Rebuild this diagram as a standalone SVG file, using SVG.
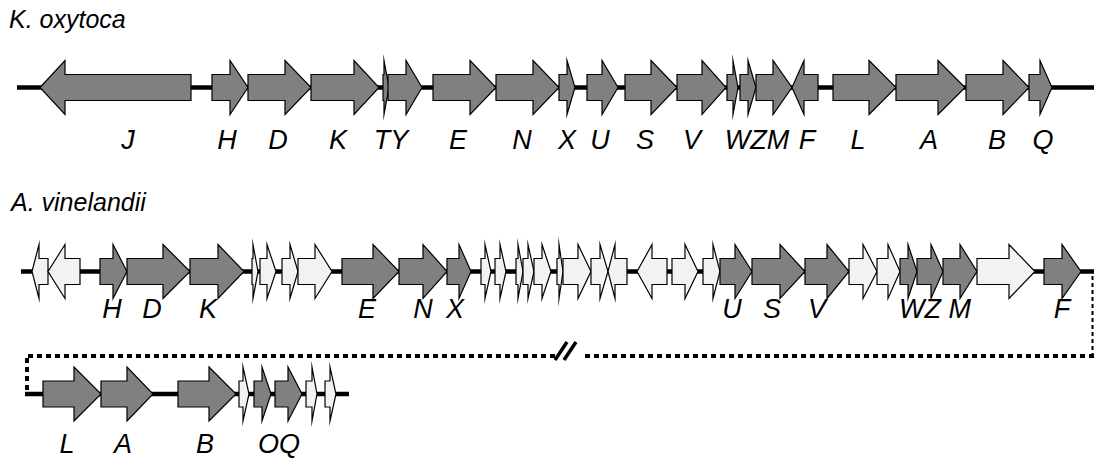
<svg xmlns="http://www.w3.org/2000/svg" width="1094" height="459" viewBox="0 0 1094 459">
  <style>
    .d { fill: #808080; stroke: #000; stroke-width: 1.2; stroke-linejoin: miter; stroke-miterlimit: 30; }
    .l { fill: #f2f2f2; stroke: #000; stroke-width: 1.2; stroke-linejoin: miter; stroke-miterlimit: 30; }
    .bb { stroke: #000; stroke-width: 4.5; fill: none; }
    .dash { stroke: #000; stroke-width: 4; fill: none; stroke-dasharray: 5 4; }
    .title { font-family: "Liberation Sans", Arial, sans-serif; font-style: italic; font-size: 25px; fill: #000; }
    .lab { font-family: "Liberation Sans", Arial, sans-serif; font-style: italic; font-size: 27px; fill: #000; text-anchor: middle; }
  </style>

  <text class="title" x="9" y="28">K. oxytoca</text>
  <text class="title" x="11" y="211">A. vinelandii</text>

  <!-- backbones, operon break and continuation -->
  <g id="connectors">
    <line class="bb" x1="17" y1="87.5" x2="1094" y2="87.5"/>
    <line class="bb" x1="21" y1="271.5" x2="1094" y2="271.5"/>
    <line class="bb" x1="25" y1="394" x2="349" y2="394"/>
    <line x1="1092.5" y1="276" x2="1092.5" y2="354" stroke="#000" stroke-width="2" stroke-dasharray="4 3"/>
    <line class="dash" x1="1094" y1="356" x2="582" y2="356"/>
    <line class="dash" x1="555" y1="356" x2="25" y2="356"/>
    <line class="dash" x1="27" y1="358" x2="27" y2="392"/>
    <line x1="555" y1="360" x2="567" y2="342" stroke="#000" stroke-width="3.5"/>
    <line x1="564" y1="360" x2="576" y2="342" stroke="#000" stroke-width="3.5"/>
  </g>

  <!-- K. oxytoca cluster -->
  <g id="row-koxytoca" transform="translate(0,87.5)">
    <g id="k-J"><polygon class="d" points="40,0 65,-27 65,-13 191,-13 191,13 65,13 65,27"/></g>
    <g id="k-H"><polygon class="d" points="212,-13 230,-13 230,-27 248,0 230,27 230,13 212,13"/></g>
    <g id="k-D"><polygon class="d" points="248,-13 285,-13 285,-27 311,0 285,27 285,13 248,13"/></g>
    <g id="k-K"><polygon class="d" points="311,-13 354,-13 354,-27 379,0 354,27 354,13 311,13"/></g>
    <g id="k-T"><polygon class="d" points="383,-13 384,-13 384,-27 389,0 384,27 384,13 383,13"/></g>
    <g id="k-Y"><polygon class="d" points="388,-13 406,-13 406,-27 422,0 406,27 406,13 388,13"/></g>
    <g id="k-E"><polygon class="d" points="433,-13 470,-13 470,-27 496,0 470,27 470,13 433,13"/></g>
    <g id="k-N"><polygon class="d" points="496,-13 533,-13 533,-27 559,0 533,27 533,13 496,13"/></g>
    <g id="k-X"><polygon class="d" points="559,-13 567,-13 567,-27 575,0 567,27 567,13 559,13"/></g>
    <g id="k-U"><polygon class="d" points="587,-13 602,-13 602,-27 618,0 602,27 602,13 587,13"/></g>
    <g id="k-S"><polygon class="d" points="625,-13 651,-13 651,-27 677,0 651,27 651,13 625,13"/></g>
    <g id="k-V"><polygon class="d" points="677,-13 702,-13 702,-27 726,0 702,27 702,13 677,13"/></g>
    <g id="k-W"><polygon class="d" points="727,-13 733,-13 733,-27 738,0 733,27 733,13 727,13"/></g>
    <g id="k-Z"><polygon class="d" points="740,-13 748,-13 748,-27 756,0 748,27 748,13 740,13"/></g>
    <g id="k-M"><polygon class="d" points="756,-13 773,-13 773,-27 792,0 773,27 773,13 756,13"/></g>
    <g id="k-F"><polygon class="d" points="792,0 804,-27 804,-13 818,-13 818,13 804,13 804,27"/></g>
    <g id="k-L"><polygon class="d" points="833,-13 869,-13 869,-27 896,0 869,27 869,13 833,13"/></g>
    <g id="k-A"><polygon class="d" points="896,-13 938,-13 938,-27 965,0 938,27 938,13 896,13"/></g>
    <g id="k-B"><polygon class="d" points="966,-13 1003,-13 1003,-27 1029,0 1003,27 1003,13 966,13"/></g>
    <g id="k-Q"><polygon class="d" points="1029,-13 1040,-13 1040,-27 1052,0 1040,27 1040,13 1029,13"/></g>
  </g>
  <g id="labels-koxytoca">
    <text class="lab" x="128" y="149">J</text>
    <text class="lab" x="227" y="149">H</text>
    <text class="lab" x="278" y="149">D</text>
    <text class="lab" x="338" y="149">K</text>
    <text class="lab" x="391" y="149">TY</text>
    <text class="lab" x="458" y="149">E</text>
    <text class="lab" x="522" y="149">N</text>
    <text class="lab" x="567" y="149">X</text>
    <text class="lab" x="600" y="149">U</text>
    <text class="lab" x="645" y="149">S</text>
    <text class="lab" x="692" y="149">V</text>
    <text class="lab" x="757" y="149">WZM</text>
    <text class="lab" x="807" y="149">F</text>
    <text class="lab" x="858" y="149">L</text>
    <text class="lab" x="929" y="149">A</text>
    <text class="lab" x="997" y="149">B</text>
    <text class="lab" x="1043" y="149">Q</text>
  </g>

  <!-- A. vinelandii cluster, first segment -->
  <g id="row-avinelandii" transform="translate(0,271.5)">
    <g id="a-g1"><polygon class="l" points="32,0 39,-27 39,-13 48,-13 48,13 39,13 39,27"/></g>
    <g id="a-g2"><polygon class="l" points="48,0 65,-27 65,-13 80,-13 80,13 65,13 65,27"/></g>
    <g id="a-H"><polygon class="d" points="100,-13 113,-13 113,-27 127,0 113,27 113,13 100,13"/></g>
    <g id="a-D"><polygon class="d" points="127,-13 163,-13 163,-27 190,0 163,27 163,13 127,13"/></g>
    <g id="a-K"><polygon class="d" points="190,-13 218,-13 218,-27 244,0 218,27 218,13 190,13"/></g>
    <g id="a-g3"><polygon class="l" points="252,-13 253,-13 253,-27 258,0 253,27 253,13 252,13"/></g>
    <g id="a-g4"><polygon class="l" points="260,-13 267,-13 267,-27 276,0 267,27 267,13 260,13"/></g>
    <g id="a-g5"><polygon class="l" points="282,-13 290,-13 290,-27 298,0 290,27 290,13 282,13"/></g>
    <g id="a-g6"><polygon class="l" points="298,-13 315,-13 315,-27 332,0 315,27 315,13 298,13"/></g>
    <g id="a-E"><polygon class="d" points="342,-13 373,-13 373,-27 399,0 373,27 373,13 342,13"/></g>
    <g id="a-N"><polygon class="d" points="399,-13 423,-13 423,-27 447,0 423,27 423,13 399,13"/></g>
    <g id="a-X"><polygon class="d" points="447,-13 459,-13 459,-27 471,0 459,27 459,13 447,13"/></g>
    <g id="a-g7"><polygon class="l" points="481,-13 485,-13 485,-27 491,0 485,27 485,13 481,13"/></g>
    <g id="a-g8"><polygon class="l" points="495,-13 500,-13 500,-27 506,0 500,27 500,13 495,13"/></g>
    <g id="a-g9"><polygon class="l" points="516,-13 518,-13 518,-27 523,0 518,27 518,13 516,13"/></g>
    <g id="a-g10"><polygon class="l" points="523,-13 528,-13 528,-27 534,0 528,27 528,13 523,13"/></g>
    <g id="a-g11"><polygon class="l" points="534,-13 542,-13 542,-27 551,0 542,27 542,13 534,13"/></g>
    <g id="a-g12"><polygon class="l" points="557,-13 559,-13 559,-27 563,0 559,27 559,13 557,13"/></g>
    <g id="a-g13"><polygon class="l" points="563,-13 578,-13 578,-27 591,0 578,27 578,13 563,13"/></g>
    <g id="a-g14"><polygon class="l" points="591,-13 600,-13 600,-27 608,0 600,27 600,13 591,13"/></g>
    <g id="a-g15"><polygon class="l" points="608,0 615,-27 615,-13 627,-13 627,13 615,13 615,27"/></g>
    <g id="a-g16"><polygon class="l" points="637,0 652,-27 652,-13 667,-13 667,13 652,13 652,27"/></g>
    <g id="a-g17"><polygon class="l" points="672,-13 685,-13 685,-27 698,0 685,27 685,13 672,13"/></g>
    <g id="a-g18"><polygon class="l" points="703,-13 713,-13 713,-27 720,0 713,27 713,13 703,13"/></g>
    <g id="a-U"><polygon class="d" points="720,-13 735,-13 735,-27 752,0 735,27 735,13 720,13"/></g>
    <g id="a-S"><polygon class="d" points="752,-13 780,-13 780,-27 805,0 780,27 780,13 752,13"/></g>
    <g id="a-V"><polygon class="d" points="805,-13 827,-13 827,-27 849,0 827,27 827,13 805,13"/></g>
    <g id="a-g19"><polygon class="l" points="849,-13 863,-13 863,-27 877,0 863,27 863,13 849,13"/></g>
    <g id="a-g20"><polygon class="l" points="877,-13 888,-13 888,-27 900,0 888,27 888,13 877,13"/></g>
    <g id="a-W"><polygon class="d" points="900,-13 908,-13 908,-27 917,0 908,27 908,13 900,13"/></g>
    <g id="a-Z"><polygon class="d" points="917,-13 931,-13 931,-27 943,0 931,27 931,13 917,13"/></g>
    <g id="a-M"><polygon class="d" points="943,-13 960,-13 960,-27 977,0 960,27 960,13 943,13"/></g>
    <g id="a-g21"><polygon class="l" points="977,-13 1009,-13 1009,-27 1035,0 1009,27 1009,13 977,13"/></g>
    <g id="a-F"><polygon class="d" points="1044,-13 1062,-13 1062,-27 1081,0 1062,27 1062,13 1044,13"/></g>
  </g>
  <g id="labels-avinelandii">
    <text class="lab" x="112" y="318">H</text>
    <text class="lab" x="152" y="318">D</text>
    <text class="lab" x="208" y="318">K</text>
    <text class="lab" x="367" y="318">E</text>
    <text class="lab" x="423" y="318">N</text>
    <text class="lab" x="455" y="318">X</text>
    <text class="lab" x="732" y="318">U</text>
    <text class="lab" x="772" y="318">S</text>
    <text class="lab" x="817" y="318">V</text>
    <text class="lab" x="935" y="318">WZ M</text>
    <text class="lab" x="1062" y="318">F</text>
  </g>

  <!-- A. vinelandii cluster, second segment -->
  <g id="row-avinelandii-2" transform="translate(0,394)">
    <g id="b-L"><polygon class="d" points="43,-13 74,-13 74,-27 101,0 74,27 74,13 43,13"/></g>
    <g id="b-A"><polygon class="d" points="101,-13 127,-13 127,-27 153,0 127,27 127,13 101,13"/></g>
    <g id="b-B"><polygon class="d" points="178,-13 209,-13 209,-27 236,0 209,27 209,13 178,13"/></g>
    <g id="b-g1"><polygon class="l" points="239,-13 243,-13 243,-27 249,0 243,27 243,13 239,13"/></g>
    <g id="b-O"><polygon class="d" points="254,-13 262,-13 262,-27 271,0 262,27 262,13 254,13"/></g>
    <g id="b-Q"><polygon class="d" points="275,-13 288,-13 288,-27 302,0 288,27 288,13 275,13"/></g>
    <g id="b-g2"><polygon class="l" points="306,-13 312,-13 312,-27 317,0 312,27 312,13 306,13"/></g>
    <g id="b-g3"><polygon class="l" points="325,-13 330,-13 330,-27 336,0 330,27 330,13 325,13"/></g>
  </g>
  <g id="labels-avinelandii-2">
    <text class="lab" x="67" y="453">L</text>
    <text class="lab" x="123" y="453">A</text>
    <text class="lab" x="205" y="453">B</text>
    <text class="lab" x="279" y="453">OQ</text>
  </g>
</svg>
